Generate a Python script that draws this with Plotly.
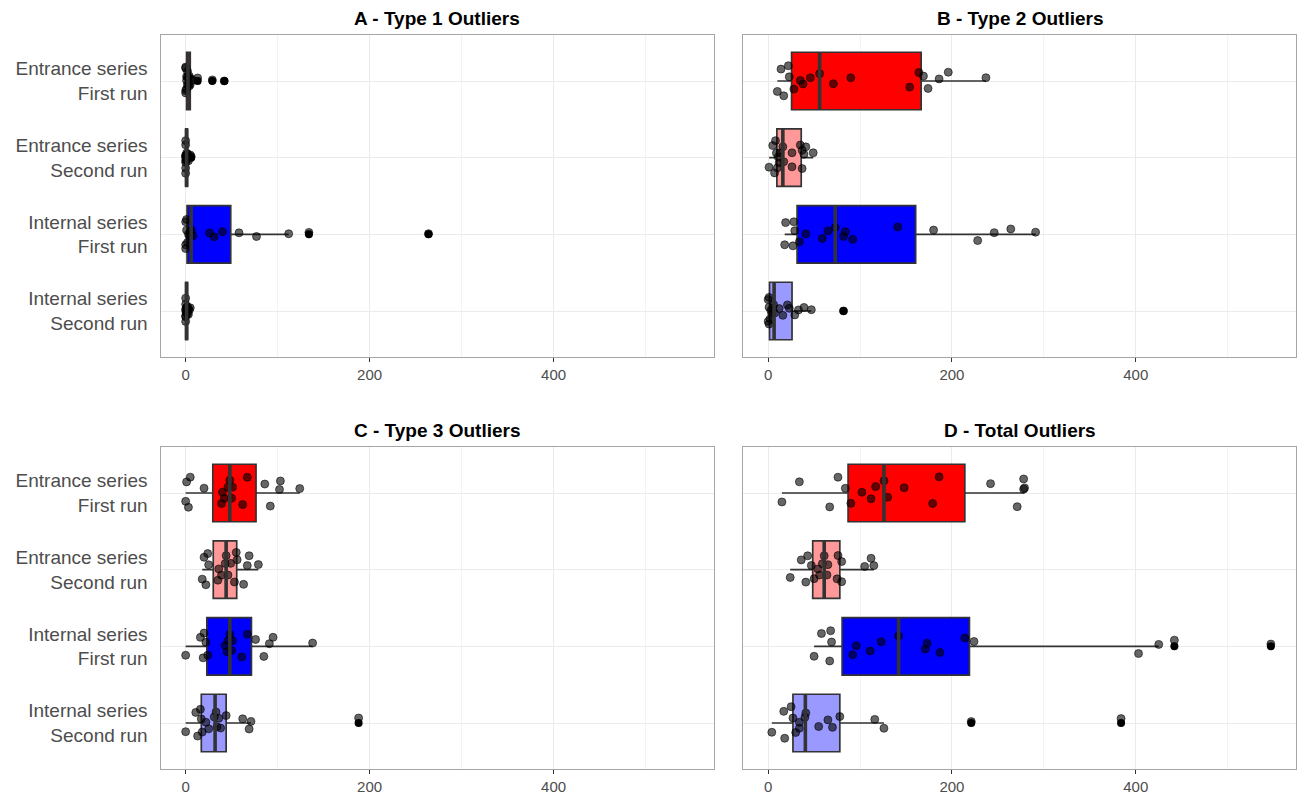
import numpy as np
import plotly.graph_objects as go

# ---------------- data ----------------
groups = ["Entrance series<br>First run", "Entrance series<br>Second run",
          "Internal series<br>First run", "Internal series<br>Second run"]
fills = ["#FF0000", "#FF9999", "#0000FF", "#9999FF"]
panel_titles = ["A - Type 1 Outliers", "B - Type 2 Outliers",
                "C - Type 3 Outliers", "D - Total Outliers"]
x_ticks = [0, 200, 400]
x_minor = [100, 300, 500]

# A - Type 1
a_ent1 = [0, 0, 0, 0, 1, 1, 1, 2, 2, 2, 3, 3, 4, 4, 5, 5, 8, 13, 29, 42]
a_ent2 = [0, 0, 0, 0, 0, 0, 0, 0, 0, 1, 1, 1, 1, 2, 2, 3, 4, 5, 6]
a_int1 = [0, 0, 0, 1, 1, 2, 3, 4, 5, 6, 8, 26, 31, 40, 58, 77, 112, 134, 264]
a_int2 = [0, 0, 0, 0, 0, 0, 0, 1, 1, 1, 1, 2, 2, 2, 3, 3, 4, 5]
# B - Type 2
b_ent1 = [10, 14, 17, 22, 23, 28, 35, 38, 46, 56, 71, 90, 154, 164, 169, 174, 186, 196, 237]
b_ent2 = [1, 5, 7, 8, 9, 10, 11, 12, 13, 16, 17, 26, 26, 35, 37, 37, 39, 41, 49]
b_int1 = [18, 19, 27, 28, 29, 34, 41, 59, 65, 73, 82, 84, 92, 141, 180, 228, 246, 264, 291]
b_int2 = [0, 0, 1, 1, 1, 2, 3, 4, 5, 6, 7, 12, 16, 21, 23, 29, 33, 39, 47, 82]
# C - Type 3
c_ent1 = [0, 1, 3, 5, 20, 39, 40, 42, 46, 48, 50, 51, 62, 67, 86, 92, 102, 103, 124]
c_ent2 = [18, 20, 22, 24, 25, 35, 36, 39, 43, 44, 46, 49, 53, 55, 56, 63, 67, 69, 79]
c_int1 = [0, 16, 19, 20, 22, 24, 43, 45, 46, 48, 50, 51, 61, 67, 76, 85, 91, 95, 138]
c_int2 = [0, 11, 13, 16, 17, 18, 22, 25, 31, 33, 34, 36, 38, 44, 62, 69, 71, 188]
# D - Total
d_ent1 = [15, 34, 67, 76, 84, 90, 102, 112, 117, 126, 130, 148, 179, 186, 242, 271, 278, 278, 279]
d_ent2 = [24, 36, 41, 43, 47, 50, 54, 56, 59, 61, 64, 65, 75, 76, 80, 80, 105, 112, 115]
d_int1 = [50, 58, 67, 68, 69, 92, 96, 111, 123, 142, 171, 173, 187, 214, 224, 403, 425, 442, 547]
d_int2 = [4, 17, 18, 25, 27, 30, 34, 34, 40, 41, 55, 65, 70, 78, 116, 126, 221, 384]

panels = [
    [a_ent1, a_ent2, a_int1, a_int2],
    [b_ent1, b_ent2, b_int1, b_int2],
    [c_ent1, c_ent2, c_int1, c_int2],
    [d_ent1, d_ent2, d_int1, d_int2],
]

# ---------------- layout geometry ----------------
W, H = 1300, 794
x_domains = [[160.5 / W, 714 / W], [743 / W, 1296 / W]]
y_domains = [[1 - 357 / H, 1 - 35 / H], [1 - 769 / H, 1 - 447 / H]]
BOX_W = 0.75
FONT = "Liberation Sans, Arial, Helvetica, sans-serif"
LINE_C = "#333333"

all_vals = np.concatenate([np.array(v, float) for p in panels for v in p])
vmin, vmax = all_vals.min(), all_vals.max()
pad = 0.05 * (vmax - vmin)
x_range = [vmin - pad, vmax + pad]

fig = go.Figure()
layout = dict(
    width=W, height=H, margin=dict(l=0, r=0, t=0, b=0),
    paper_bgcolor="white", plot_bgcolor="white", showlegend=False,
    boxmode="overlay", font=dict(family=FONT, color="#4D4D4D"),
    annotations=[],
)

for p, data in enumerate(panels):
    row, col = divmod(p, 2)
    sfx = "" if p == 0 else str(p + 1)
    xa, ya = "x" + sfx, "y" + sfx
    med_x, med_y = [], []
    for i, vals in enumerate(data):
        # box with ggplot-style outliers on the centre line
        fig.add_trace(go.Box(
            x=vals, y0=i, orientation="h", xaxis=xa, yaxis=ya,
            width=BOX_W, fillcolor=fills[i], quartilemethod="inclusive",
            line=dict(color=LINE_C, width=1.7), whiskerwidth=0,
            boxpoints="outliers", jitter=0, pointpos=0,
            marker=dict(color="black", size=8, opacity=1, line=dict(width=0)),
            hoverinfo="skip",
        ))
        # jittered raw observations
        fig.add_trace(go.Box(
            x=vals, y0=i, orientation="h", xaxis=xa, yaxis=ya,
            width=BOX_W, fillcolor="rgba(0,0,0,0)", quartilemethod="inclusive",
            line=dict(color="rgba(0,0,0,0)", width=0), whiskerwidth=0,
            boxpoints="all", jitter=0.7, pointpos=0,
            marker=dict(color="rgba(0,0,0,0.6)", size=8,
                        line=dict(width=0.8, color="rgba(0,0,0,0.7)")),
            hoverinfo="skip",
        ))
        m = float(np.median(vals))
        med_x += [m, m, None]
        med_y += [i - BOX_W / 2, i + BOX_W / 2, None]
    # thick median lines (ggplot fatten = 2)
    fig.add_trace(go.Scatter(x=med_x, y=med_y, mode="lines", xaxis=xa, yaxis=ya,
                             line=dict(color=LINE_C, width=3.6), hoverinfo="skip"))

    layout["xaxis" + sfx] = dict(
        domain=x_domains[col], anchor=ya, range=x_range,
        tickmode="array", tickvals=x_ticks, ticks="outside", ticklen=4,
        tickcolor=LINE_C, tickwidth=1.2,
        tickfont=dict(size=15, color="#4D4D4D", family=FONT),
        showgrid=True, gridcolor="#EBEBEB", gridwidth=1.4, zeroline=False,
        showline=True, mirror=True, linecolor="#A6A6A6", linewidth=1.3,
        minor=dict(tickvals=x_minor, showgrid=True, gridcolor="#F3F3F3",
                   gridwidth=1, ticks=""),
    )
    layout["yaxis" + sfx] = dict(
        domain=y_domains[row], anchor=xa, range=[3.6, -0.6],
        tickmode="array", tickvals=list(range(len(groups))),
        ticktext=groups, showticklabels=(col == 0),
        ticks="", ticklabelstandoff=8,
        tickfont=dict(size=19, color="#4D4D4D", family=FONT),
        showgrid=True, gridcolor="#EBEBEB", gridwidth=1.4, zeroline=False,
        showline=True, mirror=True, linecolor="#A6A6A6", linewidth=1.3,
    )
    layout["annotations"].append(dict(
        text="<b>" + panel_titles[p] + "</b>", xref="paper", yref="paper",
        x=sum(x_domains[col]) / 2, y=y_domains[row][1] + 17 / H,
        xanchor="center", yanchor="middle", showarrow=False,
        font=dict(size=19, color="black", family=FONT),
    ))

fig.update_layout(**layout)
fig.write_html("out.html", config={"displayModeBar": False},
               post_script="document.body.style.margin='0';document.body.style.overflow='hidden';")
